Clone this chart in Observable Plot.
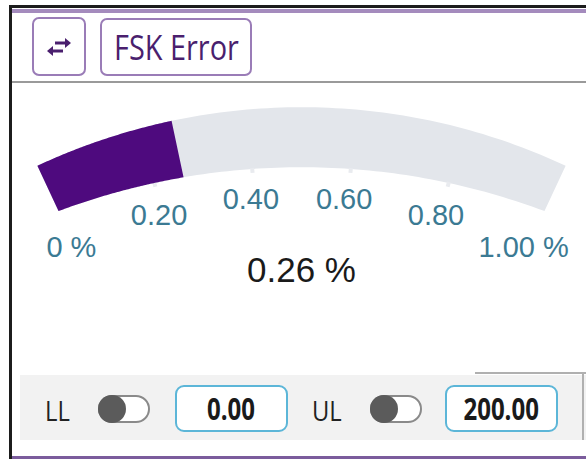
<!DOCTYPE html>
<html>
<head>
<meta charset="utf-8">
<script src="https://cdn.jsdelivr.net/npm/d3@7"></script>
<script src="https://cdn.jsdelivr.net/npm/@observablehq/plot@0.6"></script>
<style>
  html, body { margin: 0; padding: 0; background: #fff; }
  body { width: 586px; height: 459px; position: relative; overflow: hidden; font-family: "Open Sans", sans-serif; }
  .abs { position: absolute; box-sizing: border-box; }
  #frameTop { left: 9px; top: 5px; width: 577px; height: 3px; background: #1c1c1c; }
  #frameLeft { left: 9px; top: 5px; width: 3px; height: 454px; background: #1c1c1c; }
  #purpleTop { left: 12px; top: 9px; width: 574px; height: 4px; background: #a48bbd; }
  #headerSep { left: 12px; top: 81px; width: 574px; height: 2px; background: #9a9a9a; }
  .btn { border: 2px solid #9a7cb7; border-radius: 7px; background: #fff; color: #4a1f6e; display: flex; align-items: center; justify-content: center; }
  #swap { left: 32px; top: 17px; width: 54px; height: 59px; }
  #title { left: 100px; top: 18px; width: 152px; height: 58px; font-size: 34px; }
  #title span { display: inline-block; transform: scaleX(0.85); }
  #chart { left: 0; top: 83px; }
  #bar { left: 20px; top: 375px; width: 566px; height: 65px; background: #f2f2f2; }
  #barLine1 { left: 475px; top: 372px; width: 111px; height: 2px; background: #b0b0b0; }
  #barLine2 { left: 582px; top: 372px; width: 2px; height: 68px; background: #b0b0b0; }
  #purpleBot { left: 12px; top: 456px; width: 574px; height: 3px; background: #7b5c9c; }
  .lbl { font-size: 27px; color: #222; top: 395px; height: 32px; line-height: 32px; }
  .lbl span { display: inline-block; transform: scaleX(0.88); transform-origin: left center; }
  .toggle { top: 395px; width: 52px; height: 28px; border: 2px solid #8a8a8a; border-radius: 14px; background: #fff; }
  .knob { position: absolute; left: -2px; top: -2px; width: 28px; height: 28px; border-radius: 50%; background: #5b5b5b; }
  .box { top: 385px; height: 47px; border: 2px solid #5cb6d8; border-radius: 9px; background: #fff; display: flex; align-items: center; justify-content: center; font-weight: 700; font-size: 30px; color: #1a1a1a; }
  .box span { display: inline-block; transform: scaleX(0.8); }
</style>
</head>
<body>
<div class="abs" id="frameTop"></div>
<div class="abs" id="frameLeft"></div>
<div class="abs" id="purpleTop"></div>
<div class="abs btn" id="swap">
  <svg width="30" height="24" viewBox="0 0 30 24">
    <path d="M8 16 H19" stroke="#4a1f6e" stroke-width="3" fill="none"/>
    <path d="M3 16 L9 11 L9 21 Z" fill="#4a1f6e"/>
    <path d="M11 8 H22" stroke="#4a1f6e" stroke-width="3" fill="none"/>
    <path d="M27 8 L21 3 L21 13 Z" fill="#4a1f6e"/>
  </svg>
</div>
<div class="abs btn" id="title"><span id="titleText"></span></div>
<div class="abs" id="headerSep"></div>
<div class="abs" id="bar"></div>
<div class="abs" id="barLine1"></div>
<div class="abs" id="barLine2"></div>
<div class="abs lbl" style="left:45px"><span id="llText"></span></div>
<div class="abs toggle" style="left:98px"><div class="knob"></div></div>
<div class="abs box" style="left:175px;width:113px"><span id="llVal"></span></div>
<div class="abs lbl" style="left:312px"><span id="ulText"></span></div>
<div class="abs toggle" style="left:370px"><div class="knob"></div></div>
<div class="abs box" style="left:445px;width:113px"><span id="ulVal"></span></div>
<div class="abs" id="purpleBot"></div>
<div class="abs" id="chart"></div>
<script>
// ---- data ----
const titleLabel = "FSK Error";
const gaugeDomain = [0, 1];
const gaugeValue = 0.26;
const valueLabel = "0.26 %";
const tickValues = [0, 0.2, 0.4, 0.6, 0.8, 1.0];
const tickLabels = ["0 %", "0.20", "0.40", "0.60", "0.80", "1.00 %"];
const notchValues = [0.2, 0.4, 0.6, 0.8];
const limitNames = ["LL", "UL"];
const limitValues = ["0.00", "200.00"];

document.getElementById("titleText").textContent = titleLabel;
document.getElementById("llText").textContent = limitNames[0];
document.getElementById("ulText").textContent = limitNames[1];
document.getElementById("llVal").textContent = limitValues[0];
document.getElementById("ulVal").textContent = limitValues[1];

// ---- gauge geometry (polar layout) ----
const SPAN = 25;
const angle = d3.scaleLinear(gaugeDomain, [-SPAN, SPAN]);
const R_OUT = 625, R_LABEL = 535, R_CENTER = 461;
// band is thicker at its middle than at its ends
const rIn = v => { const t = angle(v) / SPAN; return 565 + 10 * t * t; };
const toXY = (v, r) => { const a = angle(v) * Math.PI / 180; return {x: r * Math.sin(a), y: r * Math.cos(a)}; };

function band(v0, v1, key) {
  const n = 80, outer = [], inner = [];
  for (let i = 0; i <= n; i++) {
    const v = v0 + (v1 - v0) * i / n;
    outer.push({...toXY(v, R_OUT), key});
    inner.push({...toXY(v, rIn(v)), key});
  }
  return outer.concat(inner.reverse());
}
const track = band(gaugeDomain[0], gaugeDomain[1], "track");
const fillBand = band(gaugeDomain[0], gaugeValue, "value");
const notches = notchValues.map(v => { const a = toXY(v, rIn(v) + 1), b = toXY(v, rIn(v) - 4); return {x1: a.x, y1: a.y, x2: b.x, y2: b.y}; });
const labels = tickValues.map((v, i) => ({...toXY(v, R_LABEL), text: tickLabels[i]}));
const center = [{...toXY((gaugeDomain[0] + gaugeDomain[1]) / 2, R_CENTER), text: valueLabel}];

const chart = Plot.plot({
  width: 586,
  height: 290,
  margin: 0,
  x: {domain: [-301, 285], axis: null},
  y: {domain: [358.7, 648.7], axis: null},
  style: {background: "transparent", overflow: "visible"},
  marks: [
    Plot.line(track, {x: "x", y: "y", z: "key", fill: "#e3e6eb", stroke: "none"}),
    Plot.link(notches, {x1: "x1", y1: "y1", x2: "x2", y2: "y2", stroke: "#e9ebef", strokeWidth: 4}),
    Plot.line(fillBand, {x: "x", y: "y", z: "key", fill: "#4e0a7e", stroke: "none"}),
    Plot.text(labels, {x: "x", y: "y", text: "text", dx: -4, fontSize: 29, fill: "#3b7a93", fontFamily: "Liberation Sans, Arial, sans-serif"}),
    Plot.text(center, {x: "x", y: "y", text: "text", fontSize: 35, fill: "#1a1a1a", fontFamily: "Liberation Sans, Arial, sans-serif"})
  ]
});
document.getElementById("chart").appendChild(chart);
</script>
</body>
</html>
